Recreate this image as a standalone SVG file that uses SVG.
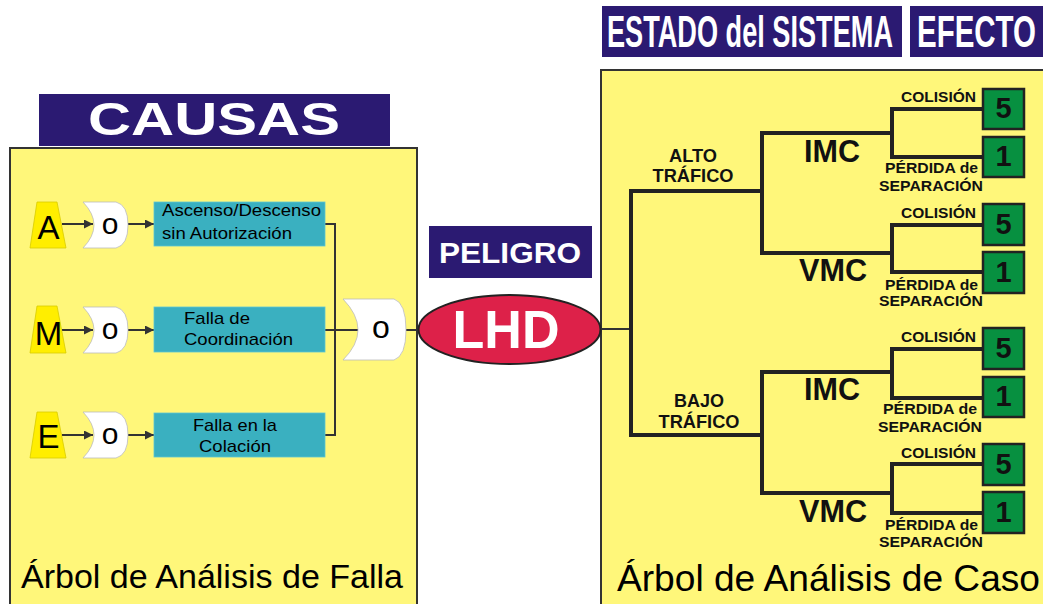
<svg xmlns="http://www.w3.org/2000/svg" width="1043" height="604" viewBox="0 0 1043 604">
<defs>
<style>
.panel{fill:#FFF77A;stroke:#333;stroke-width:2}
.banner{fill:#2B1A72}
.bt{fill:#fff;font-family:"Liberation Sans",Arial,sans-serif;font-weight:bold}
.trap{fill:#FFEE00;stroke:#d8cc00;stroke-width:0.8}
.gate{fill:#fff;stroke:#bbb;stroke-width:0.8}
.teal{fill:#3AB0C0;stroke:#5ec6d2;stroke-width:0.8}
.lt{font-family:"Liberation Sans",Arial,sans-serif;fill:#000}
.rt{font-family:"Liberation Sans",Arial,sans-serif;font-weight:bold;fill:#111}
.green{fill:#079040;stroke:#222;stroke-width:2.5}
.thin{stroke:#333;stroke-width:2;fill:none}
.tree{stroke:#222;stroke-width:4;fill:none;stroke-linecap:square}
</style>
<marker id="ah" viewBox="0 0 10 10" refX="10" refY="5" markerWidth="4.5" markerHeight="4.5" orient="auto" markerUnits="strokeWidth">
<path d="M0,0 L10,5 L0,10 Z" fill="#333"/>
</marker>
</defs>
<rect width="1043" height="604" fill="#fff"/>

<!-- Panels -->
<g id="panel-left">
<rect class="panel" x="10" y="148" width="407" height="460"/>
<text class="lt" x="21" y="588" font-size="34" textLength="382" lengthAdjust="spacingAndGlyphs">Árbol de Análisis de Falla</text>
</g>
<g id="panel-right">
<rect class="panel" x="601" y="70" width="460" height="540"/>
<text class="lt" x="617" y="591" font-size="36" textLength="423" lengthAdjust="spacingAndGlyphs">Árbol de Análisis de Caso</text>
</g>

<!-- Banners -->
<g id="banner-causas">
<rect class="banner" x="39" y="94" width="351" height="52"/>
<text class="bt" x="214" y="135" font-size="46" text-anchor="middle" textLength="252" lengthAdjust="spacingAndGlyphs">CAUSAS</text>
</g>
<g id="banner-estado">
<rect class="banner" x="602" y="6" width="300" height="51"/>
<text class="bt" transform="translate(607,47) scale(0.617,1)" x="0" y="0" font-size="44">ESTADO del SISTEMA</text>
</g>
<g id="banner-efecto">
<rect class="banner" x="910" y="6" width="140" height="51"/>
<text class="bt" transform="translate(917,47) scale(0.67,1)" x="0" y="0" font-size="44">EFECTO</text>
</g>
<g id="banner-peligro">
<rect class="banner" x="429" y="226" width="163" height="52"/>
<text class="bt" x="510" y="263" font-size="30" text-anchor="middle" textLength="142" lengthAdjust="spacingAndGlyphs">PELIGRO</text>
</g>

<!-- Connectors -->
<g id="connectors">
<line class="thin" x1="62" y1="224" x2="93" y2="224" marker-end="url(#ah)"/>
<line class="thin" x1="128" y1="224" x2="154" y2="224" marker-end="url(#ah)"/>
<line class="thin" x1="62" y1="330" x2="93" y2="330" marker-end="url(#ah)"/>
<line class="thin" x1="128" y1="330" x2="154" y2="330" marker-end="url(#ah)"/>
<line class="thin" x1="62" y1="435" x2="93" y2="435" marker-end="url(#ah)"/>
<line class="thin" x1="128" y1="435" x2="154" y2="435" marker-end="url(#ah)"/>
<polyline class="thin" points="325,224 335,224 335,435 325,435"/>
<line class="thin" x1="325" y1="330" x2="360" y2="330"/>
<line class="thin" x1="404" y1="330" x2="420" y2="330"/>
<line class="thin" x1="600" y1="329" x2="631" y2="329"/>

<path class="tree" d="M762,191 H631 V435 H762"/>
<path class="tree" d="M892,133 H762 V253 H892"/>
<path class="tree" d="M983,109 H892 V157 H983"/>
<path class="tree" d="M983,225 H892 V272 H983"/>
<path class="tree" d="M892,372 H762 V493 H892"/>
<path class="tree" d="M983,349 H892 V398 H983"/>
<path class="tree" d="M983,464 H892 V513 H983"/>
</g>

<!-- Left causes -->
<g id="node-A">
<polygon class="trap" points="37,202 57,202 66,248 30,248"/>
<text class="lt" x="48.5" y="239" font-size="33" text-anchor="middle">A</text>
</g>
<g id="node-M">
<polygon class="trap" points="37,306 57,306 66,353 30,353"/>
<text class="lt" x="48.5" y="345" font-size="33" text-anchor="middle">M</text>
</g>
<g id="node-E">
<polygon class="trap" points="37,412 57,412 66,458 30,458"/>
<text class="lt" x="48.5" y="448" font-size="33" text-anchor="middle">E</text>
</g>

<g id="gate-A">
<path class="gate" d="M83,202 L116,202 Q128,205 128,225 Q128,245 116,248 L83,248 Q105,225 83,202 Z"/>
<text class="lt" x="110" y="234" font-size="30" text-anchor="middle">o</text>
</g>
<g id="gate-M">
<path class="gate" d="M83,307 L116,307 Q128,310 128,330 Q128,350 116,353 L83,353 Q105,330 83,307 Z"/>
<text class="lt" x="110" y="339" font-size="30" text-anchor="middle">o</text>
</g>
<g id="gate-E">
<path class="gate" d="M83,412 L116,412 Q128,415 128,435 Q128,455 116,458 L83,458 Q105,435 83,412 Z"/>
<text class="lt" x="110" y="444" font-size="30" text-anchor="middle">o</text>
</g>

<g id="box-ascenso">
<rect class="teal" x="154" y="202" width="171" height="44"/>
<text class="lt" x="162" y="216" font-size="17" textLength="159" lengthAdjust="spacingAndGlyphs">Ascenso/Descenso</text>
<text class="lt" x="162" y="239" font-size="17" textLength="130" lengthAdjust="spacingAndGlyphs">sin Autorización</text>
</g>
<g id="box-coordinacion">
<rect class="teal" x="154" y="307" width="171" height="45"/>
<text class="lt" x="184" y="324" font-size="17" textLength="66" lengthAdjust="spacingAndGlyphs">Falla de</text>
<text class="lt" x="184" y="345" font-size="17" textLength="109" lengthAdjust="spacingAndGlyphs">Coordinación</text>
</g>
<g id="box-colacion">
<rect class="teal" x="154" y="413" width="171" height="44"/>
<text class="lt" x="193" y="431" font-size="17" textLength="84" lengthAdjust="spacingAndGlyphs">Falla en la</text>
<text class="lt" x="199" y="452" font-size="17" textLength="72" lengthAdjust="spacingAndGlyphs">Colación</text>
</g>

<g id="gate-main">
<path class="gate" d="M343,299 L394,299 Q406,303 406,330 Q406,356 394,360 L343,360 Q373,330 343,299 Z"/>
<text class="lt" x="381" y="338" font-size="32" text-anchor="middle">o</text>
</g>

<g id="node-LHD">
<ellipse cx="509.5" cy="329.5" rx="91" ry="34.5" fill="#DD2149" stroke="#222" stroke-width="2"/>
<text class="bt" x="506" y="348" font-size="54" text-anchor="middle" textLength="107" lengthAdjust="spacingAndGlyphs">LHD</text>
</g>

<!-- Right tree labels -->
<g id="label-alto">
<text class="rt" x="693" y="162" font-size="17.5" text-anchor="middle" textLength="48" lengthAdjust="spacingAndGlyphs">ALTO</text>
<text class="rt" x="693" y="182" font-size="17.5" text-anchor="middle" textLength="81" lengthAdjust="spacingAndGlyphs">TRÁFICO</text>
</g>
<g id="label-bajo">
<text class="rt" x="699" y="407" font-size="17.5" text-anchor="middle" textLength="50" lengthAdjust="spacingAndGlyphs">BAJO</text>
<text class="rt" x="699" y="428" font-size="17.5" text-anchor="middle" textLength="81" lengthAdjust="spacingAndGlyphs">TRÁFICO</text>
</g>
<g id="label-imc-1"><text class="rt" x="804" y="162" font-size="31" textLength="56" lengthAdjust="spacingAndGlyphs">IMC</text></g>
<g id="label-vmc-1"><text class="rt" x="799" y="281" font-size="31" textLength="68" lengthAdjust="spacingAndGlyphs">VMC</text></g>
<g id="label-imc-2"><text class="rt" x="804" y="400" font-size="31" textLength="56" lengthAdjust="spacingAndGlyphs">IMC</text></g>
<g id="label-vmc-2"><text class="rt" x="799" y="522" font-size="31" textLength="68" lengthAdjust="spacingAndGlyphs">VMC</text></g>

<g id="outcome-1">
<text class="rt" x="901" y="102" font-size="15" textLength="75" lengthAdjust="spacingAndGlyphs">COLISIÓN</text>
<rect class="green" x="983" y="89" width="41" height="40"/>
<text class="rt" x="1003.5" y="118" font-size="29" text-anchor="middle">5</text>
</g>
<g id="outcome-2">
<text class="rt" x="885" y="173" font-size="15" textLength="93" lengthAdjust="spacingAndGlyphs">PÉRDIDA de</text>
<text class="rt" x="879" y="191" font-size="15" textLength="104" lengthAdjust="spacingAndGlyphs">SEPARACIÓN</text>
<rect class="green" x="983" y="137" width="41" height="40"/>
<text class="rt" x="1003.5" y="166" font-size="29" text-anchor="middle">1</text>
</g>
<g id="outcome-3">
<text class="rt" x="901" y="218" font-size="15" textLength="75" lengthAdjust="spacingAndGlyphs">COLISIÓN</text>
<rect class="green" x="983" y="204" width="41" height="41"/>
<text class="rt" x="1003.5" y="234" font-size="29" text-anchor="middle">5</text>
</g>
<g id="outcome-4">
<text class="rt" x="885" y="290" font-size="15" textLength="93" lengthAdjust="spacingAndGlyphs">PÉRDIDA de</text>
<text class="rt" x="879" y="306" font-size="15" textLength="104" lengthAdjust="spacingAndGlyphs">SEPARACIÓN</text>
<rect class="green" x="983" y="252" width="41" height="41"/>
<text class="rt" x="1003.5" y="282" font-size="29" text-anchor="middle">1</text>
</g>
<g id="outcome-5">
<text class="rt" x="901" y="342" font-size="15" textLength="75" lengthAdjust="spacingAndGlyphs">COLISIÓN</text>
<rect class="green" x="983" y="328" width="41" height="41"/>
<text class="rt" x="1003.5" y="358" font-size="29" text-anchor="middle">5</text>
</g>
<g id="outcome-6">
<text class="rt" x="883" y="414" font-size="15" textLength="94" lengthAdjust="spacingAndGlyphs">PÉRDIDA de</text>
<text class="rt" x="878" y="432" font-size="15" textLength="104" lengthAdjust="spacingAndGlyphs">SEPARACIÓN</text>
<rect class="green" x="983" y="377" width="41" height="40"/>
<text class="rt" x="1003.5" y="406" font-size="29" text-anchor="middle">1</text>
</g>
<g id="outcome-7">
<text class="rt" x="901" y="458" font-size="15" textLength="75" lengthAdjust="spacingAndGlyphs">COLISIÓN</text>
<rect class="green" x="983" y="444" width="41" height="41"/>
<text class="rt" x="1003.5" y="474" font-size="29" text-anchor="middle">5</text>
</g>
<g id="outcome-8">
<text class="rt" x="885" y="530" font-size="15" textLength="93" lengthAdjust="spacingAndGlyphs">PÉRDIDA de</text>
<text class="rt" x="879" y="547" font-size="15" textLength="104" lengthAdjust="spacingAndGlyphs">SEPARACIÓN</text>
<rect class="green" x="983" y="492" width="41" height="41"/>
<text class="rt" x="1003.5" y="522" font-size="29" text-anchor="middle">1</text>
</g>
</svg>
